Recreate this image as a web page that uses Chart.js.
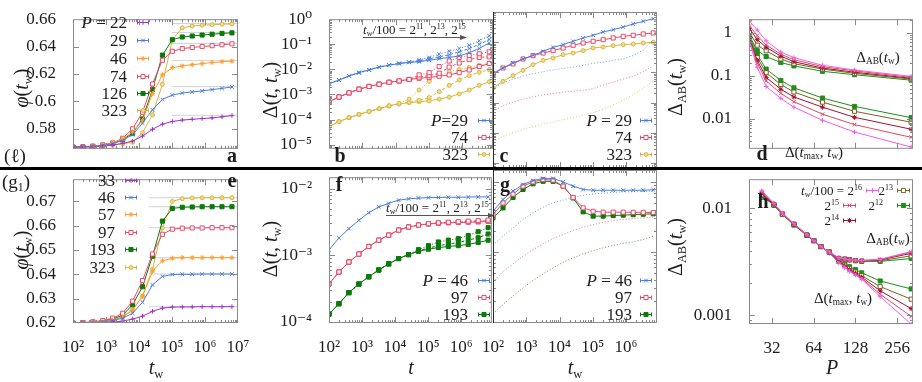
<!DOCTYPE html>
<html>
<head>
<meta charset="utf-8">
<title>aging panels</title>
<script src="https://cdn.jsdelivr.net/npm/chart.js@4.4.1/dist/chart.umd.min.js"></script>
<style>
  html, body { margin: 0; padding: 0; background: #fff; }
  body { position: relative; width: 922px; height: 382px; overflow: hidden; }
  canvas { position: absolute; }
  .tx { position: absolute; font-family: "Liberation Serif", "DejaVu Serif", serif; color: #1c1c1c; white-space: nowrap; line-height: 1; }
  .tx sub { font-size: 0.62em; vertical-align: -0.3em; line-height: 0; }
  .tx sup { font-size: 0.62em; vertical-align: 0.5em; line-height: 0; }
</style>
</head>
<body>
<script>
// waiting times / times: 100 * 2^k
const TW = [100, 200, 400, 800, 1600, 3200, 6400, 12800, 25600, 51200, 102400, 204800, 409600, 819200, 1638400, 3276800, 6553600];

// panel a  (ell), phi(t_w)
const phiL22  = [0.5665,0.5666,0.5668,0.5672,0.5680,0.5692,0.5708,0.5745,0.5795,0.5832,0.5852,0.5862,0.5868,0.5873,0.5878,0.5886,0.5895];
const phiL29  = [0.5665,0.5666,0.5669,0.5676,0.5690,0.5712,0.5755,0.5840,0.5937,0.6012,0.6045,0.6060,0.6068,0.6076,0.6085,0.6094,0.6104];
const phiL46  = [0.5665,0.5666,0.5670,0.5678,0.5695,0.5725,0.5775,0.5860,0.6055,0.6193,0.6245,0.6258,0.6267,0.6275,0.6283,0.6289,0.6294];
const phiL74  = [0.5665,0.5667,0.5671,0.5680,0.5695,0.5729,0.5798,0.5920,0.6126,0.6300,0.6365,0.6385,0.6393,0.6400,0.6406,0.6413,0.6420];
const phiL126 = [0.5665,0.5666,0.5670,0.5678,0.5692,0.5720,0.5765,0.5870,0.6086,0.6337,0.6450,0.6470,0.6477,0.6484,0.6490,0.6496,0.6500];
const phiL323 = [0.5665,0.5666,0.5667,0.5670,0.5678,0.5688,0.5700,0.5770,0.5900,0.6124,0.6450,0.6537,0.6550,0.6556,0.6560,0.6563,0.6566];
const asymL = [0.5897, 0.6107, 0.6297, 0.6423, 0.6503, 0.6568];

// panel e  (g1), phi(t_w)
const phiG33  = [0.6200,0.6200,0.6201,0.6202,0.6204,0.6208,0.6216,0.6228,0.6248,0.6261,0.6265,0.6266,0.6266,0.6267,0.6267,0.6267,0.6267];
const phiG46  = [0.6200,0.6201,0.6202,0.6205,0.6210,0.6220,0.6240,0.6285,0.6356,0.6391,0.6399,0.6400,0.6400,0.6401,0.6401,0.6401,0.6401];
const phiG57  = [0.6200,0.6201,0.6203,0.6206,0.6212,0.6225,0.6252,0.6310,0.6413,0.6455,0.6466,0.6468,0.6468,0.6468,0.6468,0.6468,0.6468];
const phiG97  = [0.6200,0.6202,0.6205,0.6210,0.6220,0.6240,0.6290,0.6374,0.6483,0.6564,0.6585,0.6589,0.6590,0.6590,0.6591,0.6591,0.6591];
const phiG193 = [0.6200,0.6201,0.6203,0.6208,0.6216,0.6232,0.6275,0.6349,0.6474,0.6618,0.6670,0.6675,0.6676,0.6677,0.6677,0.6677,0.6677];
const phiG323 = [0.6200,0.6200,0.6202,0.6206,0.6213,0.6226,0.6255,0.6310,0.6420,0.6590,0.6699,0.6710,0.6713,0.6714,0.6714,0.6714,0.6714];
const asymG = [0.6267, 0.6401, 0.6468, 0.6591, 0.6677, 0.6714];

// panel b  Delta(t, t_w) vs t, t_w/100 = 2^11, 2^13, 2^15
const dB29_11 = [0.00268,0.00372,0.00546,0.00741,0.00955,0.0123,0.0147,0.0171,0.0195,0.0240,0.0300,0.0406,0.0525,0.0676,0.0917,0.138,0.218];
const dB29_13 = [0.00268,0.00372,0.00546,0.00741,0.00955,0.0123,0.0147,0.0171,0.0192,0.0215,0.0264,0.0316,0.0386,0.0499,0.0676,0.099,0.156];
const dB29_15 = [0.00268,0.00372,0.00546,0.00741,0.00955,0.0123,0.0147,0.0171,0.0190,0.0200,0.0232,0.0264,0.0300,0.0340,0.0462,0.0676,0.112];
const dB74_11 = [5.1e-4,7.9e-4,1.16e-3,1.61e-3,2.08e-3,2.55e-3,3.04e-3,3.46e-3,3.95e-3,6.0e-3,7.4e-3,0.0129,0.0215,0.0300,0.0358,0.0417,0.0499];
const dB74_13 = [5.1e-4,7.9e-4,1.16e-3,1.61e-3,2.08e-3,2.55e-3,3.04e-3,3.46e-3,3.95e-3,4.9e-3,5.6e-3,7.0e-3,0.0123,0.0180,0.0245,0.0300,0.0316];
const dB74_15 = [5.1e-4,7.9e-4,1.16e-3,1.61e-3,2.08e-3,2.55e-3,3.04e-3,3.46e-3,3.95e-3,4.4e-3,4.8e-3,5.3e-3,6.0e-3,7.4e-3,9.5e-3,0.0129,0.0171];
const dB323_11 = [5.2e-5,8.3e-5,1.18e-4,1.6e-4,2.1e-4,2.7e-4,3.5e-4,4.4e-4,6.5e-4,1.5e-3,3.3e-3,5.8e-3,8.0e-3,9.8e-3,0.0120,0.0145,0.0176];
const dB323_13 = [5.2e-5,8.3e-5,1.18e-4,1.6e-4,2.1e-4,2.7e-4,3.5e-4,4.2e-4,4.9e-4,5.8e-4,7.5e-4,1.3e-3,2.3e-3,3.8e-3,5.6e-3,7.6e-3,9.8e-3];
const dB323_15 = [5.2e-5,8.3e-5,1.18e-4,1.6e-4,2.1e-4,2.7e-4,3.5e-4,4.2e-4,4.7e-4,5.1e-4,5.6e-4,6.5e-4,7.8e-4,1.05e-3,1.5e-3,2.3e-3,3.2e-3];

// panel c  vs t_w (markers) and dotted reference curves
const dC29  = [9.5e-3,0.0140,0.0205,0.0278,0.0367,0.0499,0.0676,0.0828,0.107,0.138,0.169,0.218,0.26,0.318,0.401,0.49,0.60];
const dC74  = [8.4e-3,0.0140,0.0190,0.0278,0.0358,0.0438,0.0525,0.0643,0.079,0.094,0.107,0.121,0.138,0.156,0.169,0.187,0.202];
const dC323 = [3.04e-3,5.06e-3,7.8e-3,0.0117,0.0180,0.0250,0.0300,0.0386,0.0438,0.0525,0.0643,0.0693,0.0767,0.0828,0.087,0.094,0.099];
const dC29dot  = [2.8e-3,4.5e-3,6.0e-3,7.5e-3,9.0e-3,0.0105,0.0120,0.0135,0.0150,0.0170,0.0200,0.0220,0.0250,0.0280,0.0360,0.0550,0.120];
const dC74dot  = [5.1e-4,8.0e-4,1.05e-3,1.3e-3,1.55e-3,1.8e-3,2.0e-3,2.2e-3,2.4e-3,2.55e-3,2.9e-3,3.8e-3,4.8e-3,6.0e-3,7.5e-3,0.0105,0.0167];
const dC323dot = [5.0e-5,7.5e-5,1.0e-4,1.3e-4,1.6e-4,1.95e-4,2.3e-4,2.7e-4,3.2e-4,3.8e-4,4.6e-4,6.0e-4,8.3e-4,1.2e-3,1.8e-3,3.0e-3,5.0e-3];

// panel f  Delta(t, t_w) vs t
const dF46 = [1.2e-3,1.81e-3,2.5e-3,3.34e-3,4.35e-3,5.3e-3,6.0e-3,6.7e-3,7.0e-3,7.2e-3,7.3e-3,7.35e-3,7.4e-3,7.4e-3,7.45e-3,7.5e-3,7.5e-3];
const dF97_11 = [3.7e-4,5.6e-4,7.9e-4,1.04e-3,1.35e-3,1.68e-3,2.0e-3,2.38e-3,2.65e-3,2.83e-3,2.96e-3,3.06e-3,3.12e-3,3.18e-3,3.24e-3,3.3e-3,3.36e-3];
const dF97_13 = [3.7e-4,5.6e-4,7.9e-4,1.04e-3,1.35e-3,1.68e-3,2.0e-3,2.38e-3,2.65e-3,2.83e-3,2.95e-3,3.04e-3,3.09e-3,3.13e-3,3.17e-3,3.22e-3,3.27e-3];
const dF97_15 = [3.7e-4,5.6e-4,7.9e-4,1.04e-3,1.35e-3,1.68e-3,2.0e-3,2.38e-3,2.65e-3,2.82e-3,2.94e-3,3.02e-3,3.06e-3,3.09e-3,3.12e-3,3.15e-3,3.2e-3];
const dF193_11 = [1.3e-4,1.87e-4,2.74e-4,3.69e-4,4.74e-4,6.0e-4,7.4e-4,8.9e-4,1.02e-3,1.21e-3,1.39e-3,1.58e-3,1.68e-3,1.77e-3,1.97e-3,2.25e-3,2.59e-3];
const dF193_13 = [1.3e-4,1.87e-4,2.74e-4,3.69e-4,4.74e-4,6.0e-4,7.4e-4,8.9e-4,1.02e-3,1.17e-3,1.27e-3,1.39e-3,1.47e-3,1.55e-3,1.68e-3,1.83e-3,2.08e-3];
const dF193_15 = [1.3e-4,1.87e-4,2.74e-4,3.69e-4,4.74e-4,6.0e-4,7.4e-4,8.9e-4,1.02e-3,1.14e-3,1.23e-3,1.30e-3,1.35e-3,1.39e-3,1.45e-3,1.55e-3,1.68e-3];

// panel g  vs t_w
const dG46  = [3.8e-3,5.6e-3,7.4e-3,9.2e-3,0.01045,0.0112,0.0112,0.0100,8.7e-3,7.8e-3,7.6e-3,7.6e-3,7.6e-3,7.6e-3,7.6e-3,7.6e-3,7.7e-3];
const dG97  = [3.4e-3,5.0e-3,6.7e-3,8.7e-3,0.0100,0.0108,0.0106,8.7e-3,6.0e-3,4.26e-3,3.8e-3,3.69e-3,3.69e-3,3.69e-3,3.67e-3,3.67e-3,3.65e-3];
const dG193 = [3.06e-3,4.25e-3,6.0e-3,7.8e-3,9.4e-3,0.0102,0.0102,8.7e-3,5.9e-3,3.73e-3,3.24e-3,3.24e-3,3.3e-3,3.35e-3,3.4e-3,3.45e-3,3.5e-3];
const dG46dot  = [1.24e-3,1.68e-3,2.2e-3,2.9e-3,3.6e-3,4.35e-3,5.0e-3,5.5e-3,6.0e-3,6.45e-3,6.7e-3,6.9e-3,7.1e-3,7.2e-3,7.25e-3,7.3e-3,7.4e-3];
const dG97dot  = [3.7e-4,5.2e-4,6.7e-4,8.7e-4,1.08e-3,1.3e-3,1.55e-3,1.77e-3,2.02e-3,2.25e-3,2.45e-3,2.65e-3,2.8e-3,2.9e-3,3.0e-3,3.06e-3,3.15e-3];
const dG193dot = [1.3e-4,1.77e-4,2.33e-4,3.06e-4,3.9e-4,4.85e-4,5.9e-4,7.1e-4,8.2e-4,9.35e-4,1.04e-3,1.14e-3,1.23e-3,1.32e-3,1.39e-3,1.5e-3,1.68e-3];

// panel d  (ell) vs P, t_w/100 = 2^16 .. 2^12
const P_D = [22, 25, 29, 37, 46, 74, 126, 323];
const dAB16 = [1.86, 1.16, 0.65, 0.356, 0.265, 0.175, 0.136, 0.097];
const dAB15 = [1.44, 0.863, 0.52, 0.316, 0.236, 0.163, 0.130, 0.0916];
const dAB14 = [1.25, 0.69, 0.46, 0.285, 0.212, 0.151, 0.121, 0.0875];
const dAB13 = [1.0, 0.515, 0.38, 0.246, 0.191, 0.143, 0.114, 0.0837];
const dAB12 = [0.838, 0.383, 0.28, 0.203, 0.170, 0.127, 0.106, 0.0789];
const dTM16 = [0.60, 0.158, 0.0562, 0.0298, 0.0186, 9.2e-3, 4.9e-3, 2.2e-3];
const dTM15 = [0.65, 0.197, 0.0755, 0.0389, 0.0249, 0.0128, 7.3e-3, 3.7e-3];
const dTM14 = [0.70, 0.229, 0.0916, 0.0485, 0.0321, 0.0186, 0.0108, 5.7e-3];
const dTM13 = [0.75, 0.265, 0.118, 0.0624, 0.0419, 0.0243, 0.0149, 8.3e-3];
const dTM12 = [0.80, 0.307, 0.143, 0.0779, 0.0523, 0.0303, 0.0194, 0.0106];

// panel h  (g1) vs P
const P_H = [27, 33, 38, 46, 57, 64, 72, 83, 97, 107, 116, 128, 142, 193, 323];
const hAB16 = [0.0145,0.0111,0.0090,0.0072,0.00570,0.0050,0.0044,0.0039,3.45e-3,3.38e-3,3.3e-3,3.28e-3,3.27e-3,3.35e-3,3.95e-3];
const hAB15 = [0.0140,0.0110,0.0089,0.0071,0.00565,0.0050,0.0044,0.0039,3.43e-3,3.37e-3,3.3e-3,3.27e-3,3.25e-3,3.33e-3,3.9e-3];
const hAB14 = [0.0137,0.0109,0.0089,0.0071,0.00565,0.0050,0.0044,0.0039,3.42e-3,3.36e-3,3.3e-3,3.26e-3,3.24e-3,3.3e-3,3.8e-3];
const hAB13 = [0.0134,0.0108,0.0088,0.0071,0.00565,0.0050,0.0044,0.0039,3.41e-3,3.36e-3,3.3e-3,3.25e-3,3.22e-3,3.25e-3,3.6e-3];
const hAB12 = [0.0131,0.0107,0.0088,0.0070,0.00560,0.0050,0.0044,0.0039,3.40e-3,3.35e-3,3.32e-3,3.25e-3,3.2e-3,3.2e-3,3.4e-3];
const hTM16 = [0.0145,0.0111,0.0090,0.0072,0.00570,0.0050,0.0044,0.0038,3.1e-3,2.8e-3,2.58e-3,2.38e-3,2.18e-3,1.5e-3,8.3e-4];
const hTM15 = [0.0140,0.0110,0.0089,0.0071,0.00565,0.0050,0.0044,0.0038,3.15e-3,2.85e-3,2.62e-3,2.42e-3,2.22e-3,1.58e-3,9.8e-4];
const hTM14 = [0.0137,0.0109,0.0089,0.0071,0.00565,0.0050,0.0044,0.0039,3.2e-3,2.9e-3,2.68e-3,2.48e-3,2.28e-3,1.7e-3,1.16e-3];
const hTM13 = [0.0134,0.0108,0.0088,0.0071,0.00565,0.0050,0.0044,0.0039,3.2e-3,2.95e-3,2.75e-3,2.55e-3,2.35e-3,1.86e-3,1.42e-3];
const hTM12 = [0.0131,0.0107,0.0088,0.0070,0.00560,0.0050,0.0044,0.0039,3.3e-3,3.0e-3,2.85e-3,2.68e-3,2.5e-3,2.1e-3,1.77e-3];

const C = {
  purple: '#a233c9', blue: '#4a7edc', orange: '#ff9d2e', red: '#ec4867', green: '#0b7a0b',
  yellow: '#d9b641', pink: '#f25cf0', lred: '#dd4b60', dred: '#9d1131', olive: '#746322', dgreen: '#1d8f1d'
};
const M = {
  plus:  { style: 'cross', r: 2.3 },
  times: { style: 'crossRot', r: 2.6 },
  star:  { style: 'star', r: 2.5 },
  osq:   { style: 'rect', r: 2.9, fill: '#fff' },
  fsq:   { style: 'rect', r: 2.9 },
  circ:  { style: 'circle', r: 2.0, fill: '#efdc8e' },
  none:  { style: 'circle', r: 0 }
};

Chart.defaults.font.family = '"Liberation Serif", "DejaVu Serif", serif';
Chart.defaults.font.size = 17;
Chart.defaults.color = '#1c1c1c';

function line(xs, ys, color, mk, extra) {
  return Object.assign({
    data: xs.map((x, i) => ({ x: x, y: ys[i] })),
    borderColor: color, backgroundColor: color, borderWidth: 1,
    pointStyle: mk.style, pointRadius: mk.r, pointBorderWidth: 1,
    pointBorderColor: color, pointBackgroundColor: mk.fill || color,
    tension: 0, fill: false
  }, extra || {});
}

const SUP = { '-': '⁻', '0': '⁰', '1': '¹', '2': '²', '3': '³', '4': '⁴', '5': '⁵', '6': '⁶', '7': '⁷', '8': '⁸', '9': '⁹' };
const pow10 = e => '10' + String(e).split('').map(c => SUP[c]).join('');
const decimal = e => ({ '0': '1', '-1': '0.1', '-2': '0.01', '-3': '0.001' })[String(e)] || '';

function logTicks(min, max, lab) {
  const out = [];
  for (let e = Math.floor(Math.log10(min)); e <= Math.ceil(Math.log10(max)); e++) {
    for (let m = 1; m <= 9; m++) {
      const v = m * Math.pow(10, e);
      if (v >= min * 0.9999 && v <= max * 1.0001) out.push({ v: v, m: m === 1, label: m === 1 && lab ? lab(e) : '' });
    }
  }
  return out;
}
const listTicks = vals => vals.map(v => ({ v: v, m: true, label: String(v) }));

function drawMark(ctx, st, r, x, y, stroke, fill) {
  if (!r) return;
  ctx.save();
  ctx.setLineDash([]);
  ctx.strokeStyle = stroke; ctx.fillStyle = fill; ctx.lineWidth = 1;
  ctx.beginPath();
  const d = r * 0.72;
  if (st === 'cross' || st === 'star') { ctx.moveTo(x - r, y); ctx.lineTo(x + r, y); ctx.moveTo(x, y - r); ctx.lineTo(x, y + r); }
  if (st === 'crossRot' || st === 'star') { ctx.moveTo(x - d, y - d); ctx.lineTo(x + d, y + d); ctx.moveTo(x - d, y + d); ctx.lineTo(x + d, y - d); }
  if (st === 'rect') { const s = r * Math.SQRT1_2; ctx.rect(x - s, y - s, 2 * s, 2 * s); ctx.fill(); }
  if (st === 'circle') { ctx.arc(x, y, r, 0, Math.PI * 2); ctx.fill(); }
  ctx.stroke();
  ctx.restore();
}

// frame, inward ticks, legend samples, arrows
const decor = {
  id: 'decor',
  afterDatasetsDraw(chart, args, o) {
    const ctx = chart.ctx, a = chart.chartArea;
    ctx.save();
    ctx.lineWidth = 1;
    ctx.strokeStyle = '#8a8a8a';
    ctx.beginPath();
    [['x', chart.scales.x], ['y', chart.scales.y]].forEach(([id, s]) => {
      s.ticks.forEach(t => {
        const p = Math.round(s.getPixelForValue(t.value)) + 0.5, L = t.major ? 6 : 3;
        if (id === 'x') {
          if (p <= a.left + 1 || p >= a.right - 1) return;
          ctx.moveTo(p, a.bottom); ctx.lineTo(p, a.bottom - L);
          ctx.moveTo(p, a.top); ctx.lineTo(p, a.top + L);
        } else {
          if (p <= a.top + 1 || p >= a.bottom - 1) return;
          ctx.moveTo(a.left, p); ctx.lineTo(a.left + L, p);
          ctx.moveTo(a.right, p); ctx.lineTo(a.right - L, p);
        }
      });
    });
    ctx.stroke();
    ctx.strokeStyle = '#8a8a8a';
    ctx.strokeRect(a.left + 0.5, a.top + 0.5, a.right - a.left - 1, a.bottom - a.top - 1);
    (o.keys || []).forEach(k => {
      const x0 = k.x0 - o.ox, x1 = k.x1 - o.ox, y = Math.round(k.y - o.oy) + 0.5, ds = k.ds;
      ctx.strokeStyle = ds.borderColor; ctx.setLineDash([]);
      ctx.beginPath();
      ctx.moveTo(x0, y); ctx.lineTo(x1, y);
      ctx.moveTo(x0 + 0.5, y - 2); ctx.lineTo(x0 + 0.5, y + 2);
      ctx.moveTo(x1 - 0.5, y - 2); ctx.lineTo(x1 - 0.5, y + 2);
      ctx.stroke();
      drawMark(ctx, ds.pointStyle, ds.pointRadius, (x0 + x1) / 2, y, ds.borderColor, ds.pointBackgroundColor);
    });
    (o.arrows || []).forEach(r => {
      const x0 = r.x0 - o.ox, x1 = r.x1 - o.ox, y = Math.round(r.y - o.oy) + 0.5;
      ctx.strokeStyle = '#555'; ctx.fillStyle = '#555';
      ctx.beginPath(); ctx.moveTo(x0, y); ctx.lineTo(x1 - 4, y); ctx.stroke();
      ctx.beginPath(); ctx.moveTo(x1, y); ctx.lineTo(x1 - 7, y - 2.5); ctx.lineTo(x1 - 7, y + 2.5); ctx.closePath(); ctx.fill();
    });
    ctx.restore();
  }
};

function axis(s, which, size) {
  return {
    type: s.log ? 'logarithmic' : 'linear',
    min: s.min, max: s.max,
    grid: { display: false }, border: { display: false },
    afterBuildTicks: sc => { sc.ticks = s.ticks.map(t => ({ value: t.v, major: t.m })); },
    afterFit: sc => { if (which === 'x') sc.height = size; else sc.width = size; },
    ticks: {
      display: !!s.show, autoSkip: false, maxRotation: 0, minRotation: 0,
      padding: which === 'x' ? 6 : 9,
      callback: (v, i) => (s.ticks[i] ? s.ticks[i].label : '')
    }
  };
}

// r = plot rectangle on the page, pad = [left, right, top, bottom] space around it
function panel(r, pad, xs, ys, datasets, deco) {
  const W = r.R - r.L + pad[0] + pad[1], H = r.B - r.T + pad[2] + pad[3];
  const cv = document.createElement('canvas');
  cv.width = W; cv.height = H;
  cv.style.left = (r.L - pad[0]) + 'px'; cv.style.top = (r.T - pad[2]) + 'px';
  cv.style.width = W + 'px'; cv.style.height = H + 'px';
  document.body.appendChild(cv);
  deco.ox = r.L - pad[0]; deco.oy = r.T - pad[2];
  return new Chart(cv, {
    type: 'line',
    data: { datasets: datasets },
    options: {
      responsive: false, animation: false, devicePixelRatio: 1,
      layout: { autoPadding: false, padding: { left: 0, right: pad[1], top: pad[2], bottom: 0 } },
      plugins: { legend: { display: false }, tooltip: { enabled: false }, decor: deco },
      scales: { x: axis(xs, 'x', pad[3]), y: axis(ys, 'y', pad[0]) }
    },
    plugins: [decor]
  });
}

function txt(html, x, y, opt) {
  opt = opt || {};
  const d = document.createElement('div');
  d.className = 'tx';
  d.innerHTML = html;
  d.style.fontSize = (opt.s || 18) + 'px';
  if (opt.b) d.style.fontWeight = 'bold';
  d.style.left = x + 'px'; d.style.top = y + 'px';
  const tx = opt.a === 'r' ? '-100%' : (opt.a === 'l' ? '0' : '-50%');
  d.style.transform = 'translate(' + tx + ',-50%)' + (opt.rot ? ' rotate(-90deg)' : '');
  document.body.appendChild(d);
}

// ---------- panel a ----------
const xA = { log: true, min: 100, max: 1e7, ticks: logTicks(100, 1e7), show: false };
const dsA = [
  line(TW, phiL22, C.purple, M.plus), line(TW, phiL29, C.blue, M.times), line(TW, phiL46, C.orange, M.star),
  line(TW, phiL74, C.red, M.osq), line(TW, phiL126, C.green, M.fsq), line(TW, phiL323, C.yellow, M.circ)
];
asymL.forEach(v => dsA.push(line([1e5, 1e7], [v, v], '#d2d2d2', M.none, { order: 10 })));
const rowsA = [22, 40, 58, 76, 93, 110];
panel({ L: 73, R: 238, T: 12, B: 168 }, [62, 6, 12, 0], xA,
  { min: 0.5652, max: 0.66, ticks: listTicks([0.58, 0.6, 0.62, 0.64, 0.66]), show: true },
  dsA, { keys: rowsA.map((y, i) => ({ x0: 137, x1: 149, y: y, ds: dsA[i] })) });

// ---------- panel e ----------
const dsE = [
  line(TW, phiG33, C.purple, M.plus), line(TW, phiG46, C.blue, M.times), line(TW, phiG57, C.orange, M.star),
  line(TW, phiG97, C.red, M.osq), line(TW, phiG193, C.green, M.fsq), line(TW, phiG323, C.yellow, M.circ)
];
asymG.forEach(v => dsE.push(line([2e4, 1e7], [v, v], '#d2d2d2', M.none, { order: 10 })));
const rowsE = [180, 197, 214, 232, 249, 267];
panel({ L: 73, R: 238, T: 170, B: 323 }, [62, 22, 10, 32],
  { log: true, min: 100, max: 1e7, ticks: logTicks(100, 1e7, pow10), show: true },
  { min: 0.62, max: 0.679, ticks: listTicks([0.62, 0.63, 0.64, 0.65, 0.66, 0.67]), show: true },
  dsE, { keys: rowsE.map((y, i) => ({ x0: 125, x1: 137, y: y, ds: dsE[i] })) });

// ---------- panels b, c ----------
const TMAX = 8.5e6;
const yBC = { log: true, min: 6.8e-6, max: 1, ticks: logTicks(6.8e-6, 1, pow10), show: true };
const dsB = [
  line(TW, dB29_11, C.blue, M.times, { borderDash: [1, 2] }),
  line(TW, dB29_13, C.blue, M.times, { borderDash: [3, 2] }),
  line(TW, dB29_15, C.blue, M.times),
  line(TW, dB74_11, C.red, M.osq, { borderDash: [1, 2] }),
  line(TW, dB74_13, C.red, M.osq, { borderDash: [3, 2] }),
  line(TW, dB74_15, C.red, M.osq),
  line(TW, dB323_11, C.yellow, M.circ, { borderDash: [1, 2] }),
  line(TW, dB323_13, C.yellow, M.circ, { borderDash: [3, 2] }),
  line(TW, dB323_15, C.yellow, M.circ)
];
const rowsBC = [120, 137, 154];
panel({ L: 329, R: 493, T: 12, B: 168 }, [72, 0, 12, 0],
  { log: true, min: 100, max: TMAX, ticks: logTicks(100, TMAX), show: false },
  yBC, dsB, {
    keys: [{ x0: 478, x1: 490, y: 120, ds: dsB[2] }, { x0: 478, x1: 490, y: 137, ds: dsB[5] }, { x0: 478, x1: 490, y: 154, ds: dsB[8] }],
    arrows: [{ x0: 363, x1: 467, y: 37 }]
  });

const dsC = [
  line(TW, dC29, C.blue, M.times), line(TW, dC74, C.red, M.osq), line(TW, dC323, C.yellow, M.circ),
  line(TW, dC29dot, 'rgba(74,126,220,0.75)', M.none, { borderDash: [1, 2], order: 5 }),
  line(TW, dC74dot, 'rgba(236,72,103,0.75)', M.none, { borderDash: [1, 2], order: 5 }),
  line(TW, dC323dot, 'rgba(217,182,65,0.8)', M.none, { borderDash: [1, 2], order: 5 })
];
panel({ L: 493, R: 657, T: 12, B: 168 }, [0, 6, 12, 0],
  { log: true, min: 100, max: TMAX, ticks: logTicks(100, TMAX), show: false },
  Object.assign({}, yBC, { show: false }), dsC, {
    keys: rowsBC.map((y, i) => ({ x0: 640, x1: 652, y: y, ds: dsC[i] }))
  });

// ---------- panels f, g ----------
const yFG = { log: true, min: 9.6e-5, max: 0.0148, ticks: logTicks(9.6e-5, 0.0148, pow10), show: true };
const dsF = [
  line(TW, dF46, C.blue, M.times),
  line(TW, dF97_11, C.red, M.osq, { borderDash: [1, 2] }),
  line(TW, dF97_13, C.red, M.osq, { borderDash: [3, 2] }),
  line(TW, dF97_15, C.red, M.osq),
  line(TW, dF193_11, C.green, M.fsq, { borderDash: [1, 2] }),
  line(TW, dF193_13, C.green, M.fsq, { borderDash: [3, 2] }),
  line(TW, dF193_15, C.green, M.fsq)
];
const rowsFG = [280, 297, 314];
panel({ L: 329, R: 493, T: 170, B: 323 }, [72, 4, 12, 32],
  { log: true, min: 100, max: TMAX, ticks: logTicks(100, TMAX, pow10), show: true },
  yFG, dsF, {
    keys: [{ x0: 478, x1: 490, y: 280, ds: dsF[0] }, { x0: 478, x1: 490, y: 297, ds: dsF[3] }, { x0: 478, x1: 490, y: 314, ds: dsF[6] }],
    arrows: [{ x0: 386, x1: 495, y: 215 }]
  });

const dsG = [
  line(TW, dG46, C.blue, M.times), line(TW, dG97, C.red, M.osq), line(TW, dG193, C.green, M.fsq),
  line(TW, dG46dot, 'rgba(74,126,220,0.75)', M.none, { borderDash: [1, 2], order: 5 }),
  line(TW, dG97dot, 'rgba(236,72,103,0.75)', M.none, { borderDash: [1, 2], order: 5 }),
  line(TW, dG193dot, 'rgba(11,122,11,0.7)', M.none, { borderDash: [1, 2], order: 5 })
];
panel({ L: 493, R: 657, T: 170, B: 323 }, [20, 8, 12, 32],
  { log: true, min: 100, max: TMAX, ticks: logTicks(100, TMAX, pow10), show: true },
  Object.assign({}, yFG, { show: false }), dsG, {
    keys: rowsFG.map((y, i) => ({ x0: 640, x1: 652, y: y, ds: dsG[i] }))
  });

// ---------- panels d, h ----------
const xP = { log: true, min: 21.8, max: 333, ticks: listTicks([32, 64, 128, 256]) };
const dsD = [
  line(P_D, dAB16, C.pink, M.plus), line(P_D, dAB15, C.lred, M.times), line(P_D, dAB14, C.dred, M.star),
  line(P_D, dAB13, C.olive, M.osq), line(P_D, dAB12, C.dgreen, M.fsq),
  line(P_D, dTM16, C.pink, M.plus), line(P_D, dTM15, C.lred, M.times), line(P_D, dTM14, C.dred, M.star),
  line(P_D, dTM13, C.olive, M.osq), line(P_D, dTM12, C.dgreen, M.fsq)
];
panel({ L: 749, R: 913, T: 12, B: 168 }, [62, 8, 12, 0],
  Object.assign({}, xP, { show: false }),
  { log: true, min: 2.0e-3, max: 2.07, ticks: logTicks(2.0e-3, 2.07, decimal), show: true },
  dsD, {});

const dsH = [
  line(P_H, hAB16, C.pink, M.plus), line(P_H, hAB15, C.lred, M.times), line(P_H, hAB14, C.dred, M.star),
  line(P_H, hAB13, C.olive, M.osq), line(P_H, hAB12, C.dgreen, M.fsq),
  line(P_H, hTM16, C.pink, M.plus), line(P_H, hTM15, C.lred, M.times), line(P_H, hTM14, C.dred, M.star),
  line(P_H, hTM13, C.olive, M.osq), line(P_H, hTM12, C.dgreen, M.fsq)
];
panel({ L: 749, R: 913, T: 170, B: 324 }, [62, 9, 10, 32],
  Object.assign({}, xP, { show: true }),
  { log: true, min: 8.33e-4, max: 0.0187, ticks: logTicks(8.33e-4, 0.0187, decimal), show: true },
  dsH, {
    keys: [
      { x0: 866, x1: 879, y: 190, ds: dsH[0] }, { x0: 897, x1: 910, y: 190, ds: dsH[3] },
      { x0: 843, x1: 856, y: 205, ds: dsH[1] }, { x0: 897, x1: 910, y: 205, ds: dsH[4] },
      { x0: 843, x1: 856, y: 220, ds: dsH[2] }
    ]
  });

// ---------- separators ----------
const vline = document.createElement('div');
vline.style.cssText = 'position:absolute;left:493px;top:12px;width:1px;height:311px;background:#2a2a2a';
document.body.appendChild(vline);
const hline = document.createElement('div');
hline.style.cssText = 'position:absolute;left:0;top:167px;width:922px;height:3px;background:#000';
document.body.appendChild(hline);

// ---------- text ----------
const tw = '<i>t</i><sub>w</sub>';
txt('(ℓ)', 15, 155, { s: 19 });
txt('(g<sub>1</sub>)', 16, 181, { s: 19 });

txt('<i>φ</i>(' + tw + ')', 21, 88, { s: 20, rot: true });
txt('<i>φ</i>(' + tw + ')', 21, 250, { s: 20, rot: true });
txt('Δ(<i>t</i>, ' + tw + ')', 270, 90, { s: 20, rot: true });
txt('Δ(<i>t</i>, ' + tw + ')', 270, 249, { s: 20, rot: true });
txt('Δ<sub>AB</sub>(' + tw + ')', 675, 87, { s: 20, rot: true });
txt('Δ<sub>AB</sub>(' + tw + ')', 675, 247, { s: 20, rot: true });

txt(tw, 156, 367, { s: 20 });
txt('<i>t</i>', 411, 367, { s: 20 });
txt(tw, 575, 367, { s: 20 });
txt('<i>P</i>', 832, 367, { s: 20 });

txt('a', 232, 155, { s: 20, b: true });
txt('b', 340, 155, { s: 20, b: true });
txt('c', 504, 155, { s: 20, b: true });
txt('d', 762, 153, { s: 20, b: true });
txt('e', 232, 180, { s: 20, b: true });
txt('f', 339, 184, { s: 20, b: true });
txt('g', 505, 184, { s: 20, b: true });
txt('h', 763, 201, { s: 20, b: true });

const labA = ['<i>P</i> = 22', '29', '46', '74', '126', '323'];
labA.forEach((s, i) => txt(s, 127, rowsA[i], { a: 'r', s: 17 }));
const labE = ['33', '46', '57', '97', '193', '323'];
labE.forEach((s, i) => txt(s, 115, rowsE[i], { a: 'r', s: 17 }));
['<i>P</i>=29', '74', '323'].forEach((s, i) => txt(s, 468, rowsBC[i], { a: 'r', s: 17 }));
['<i>P</i> = 29', '74', '323'].forEach((s, i) => txt(s, 632, rowsBC[i], { a: 'r', s: 17 }));
['<i>P</i> = 46', '97', '193'].forEach((s, i) => txt(s, 468, rowsFG[i], { a: 'r', s: 17 }));
['<i>P</i> = 46', '97', '193'].forEach((s, i) => txt(s, 632, rowsFG[i], { a: 'r', s: 17 }));

const twList = tw + '/100 = 2<sup>11</sup>, 2<sup>13</sup>, 2<sup>15</sup>';
txt(twList, 363, 29, { a: 'l', s: 13 });
txt(twList, 386, 207, { a: 'l', s: 13 });

txt('Δ<sub>AB</sub>(' + tw + ')', 878, 57, { s: 15 });
txt('Δ(<i>t</i><sub>max</sub>, ' + tw + ')', 814, 152, { s: 15 });
txt('Δ<sub>AB</sub>(' + tw + ')', 888, 238, { s: 15 });
txt('Δ(<i>t</i><sub>max</sub>, ' + tw + ')', 843, 298, { s: 15 });

txt(tw + '/100 = 2<sup>16</sup>', 862, 190, { a: 'r', s: 13 });
txt('2<sup>13</sup>', 893, 190, { a: 'r', s: 13 });
txt('2<sup>15</sup>', 839, 205, { a: 'r', s: 13 });
txt('2<sup>12</sup>', 883, 205, { a: 'r', s: 13 });
txt('2<sup>14</sup>', 839, 220, { a: 'r', s: 13 });
</script>
</body>
</html>
